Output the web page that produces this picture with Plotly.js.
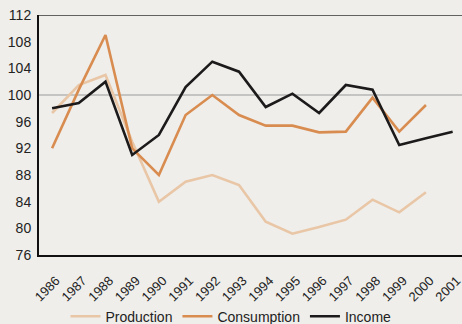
<!DOCTYPE html>
<html>
<head>
<meta charset="utf-8">
<script src="https://cdn.plot.ly/plotly-3.0.1.min.js"></script>
<style>
html,body{margin:0;padding:0;background:#efeeea;}
#chart{width:462px;height:324px;}
</style>
</head>
<body>
<div id="chart"></div>
<script>
const years = ["1986","1987","1988","1989","1990","1991","1992","1993","1994","1995","1996","1997","1998","1999","2000","2001"];
const seriesNames = ["Production","Consumption","Income"];
const production  = [97.3, 101.5, 103, 93, 84, 87, 88, 86.5, 81, 79.2, 80.2, 81.3, 84.3, 82.4, 85.4, null];
const consumption = [92, 100.8, 109, 92, 88, 97, 100, 97, 95.4, 95.4, 94.4, 94.5, 99.6, 94.5, 98.5, null];
const income      = [98, 98.8, 102, 91, 94, 101.2, 105, 103.5, 98.2, 100.2, 97.3, 101.5, 100.8, 92.5, 93.5, 94.5];
const yTicks = [76, 80, 84, 88, 92, 96, 100, 104, 108, 112];
const refLevel = 100;

const colors = ["#e9c6a6", "#d98c50", "#1c1a1a"];
const values = [production, consumption, income];

const traces = values.map((v, i) => ({
  x: years, y: v, name: seriesNames[i], type: "scatter", mode: "lines",
  line: {color: colors[i], width: 2.6},
  connectgaps: false
}));

const layout = {
  width: 462, height: 324,
  margin: {l: 39, r: 0, t: 15, b: 69, autoexpand: false},
  paper_bgcolor: "#efeeea", plot_bgcolor: "#efeeea",
  font: {family: "Liberation Sans, Arial, sans-serif", size: 12, color: "#222"},
  showlegend: true,
  legend: {orientation: "h", x: 0.5, xref: "container", xanchor: "center",
           y: -0.19, yref: "paper", yanchor: "top",
           font: {size: 14, color: "#222"}, bgcolor: "rgba(0,0,0,0)", tracegroupgap: 0},
  xaxis: {type: "category", range: [-0.49, 15.35], showgrid: false, zeroline: false,
          showline: true, linecolor: "#111", linewidth: 2, ticks: "", tickangle: -45,
          tickfont: {size: 13, color: "#222"}, ticklabelstandoff: 11, ticklabelshift: 4},
  yaxis: {range: [76, 112], tickvals: yTicks, showgrid: false, zeroline: false,
          showline: true, linecolor: "#111", linewidth: 2, ticks: "",
          tickfont: {size: 14, color: "#222"}, ticklabelstandoff: 3},
  shapes: [
    {type: "line", xref: "paper", yref: "y", x0: 0, x1: 1, y0: refLevel, y1: refLevel,
     line: {color: "#9a9a9a", width: 1.2}, layer: "below"},
    {type: "line", xref: "paper", yref: "y", x0: 0, x1: 1, y0: 112, y1: 112,
     line: {color: "#333", width: 1.5}, layer: "below"}
  ]
};

Plotly.newPlot("chart", traces, layout, {displayModeBar: false, staticPlot: true});
</script>
</body>
</html>
